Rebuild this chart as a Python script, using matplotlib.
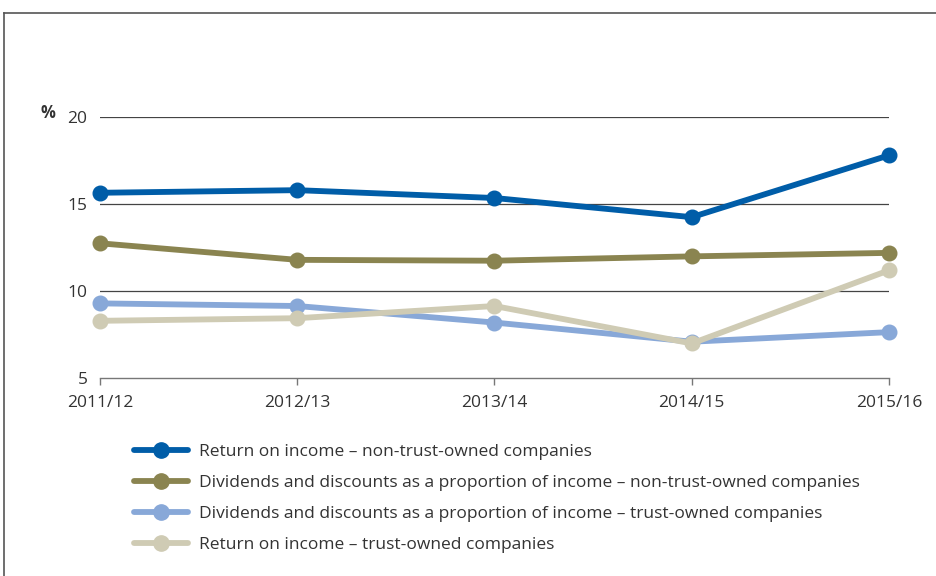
import matplotlib
matplotlib.use("Agg")
import matplotlib.pyplot as plt
from matplotlib.lines import Line2D

categories = ["2011/12", "2012/13", "2013/14", "2014/15", "2015/16"]
return_non_trust = [15.65, 15.8, 15.35, 14.25, 17.8]
div_non_trust = [12.75, 11.8, 11.75, 12.0, 12.2]
div_trust = [9.3, 9.15, 8.2, 7.1, 7.65]
return_trust = [8.3, 8.45, 9.15, 7.0, 11.2]

series_labels = [
    "Return on income \u2013 non-trust-owned companies",
    "Dividends and discounts as a proportion of income \u2013 non-trust-owned companies",
    "Dividends and discounts as a proportion of income \u2013 trust-owned companies",
    "Return on income \u2013 trust-owned companies",
]
colors = ["#005DA8", "#8A8450", "#88A8D8", "#CFCBB4"]
yticks = [5, 10, 15, 20]

plt.rcParams['font.family'] = ['Open Sans', 'DejaVu Sans']

fig = plt.figure(figsize=(9.37, 5.76), dpi=100)
ax = fig.add_axes([100/937, 1-378.3/576, (889-100)/937, (378.3-117)/576])

x = list(range(len(categories)))
series = [return_non_trust, div_non_trust, div_trust, return_trust]
order = [2, 1, 0, 3]
for i in order:
    ax.plot(x, series[i], color=colors[i], lw=4.2, marker='o', ms=10.5,
            solid_capstyle='round', clip_on=False, zorder=3 + i)

ax.set_xlim(0, 4)
ax.set_ylim(5, 20)
ax.set_yticks(yticks)
ax.set_yticklabels([str(v) for v in yticks], fontsize=12.5, color="#333333")
ax.set_xticks(x)
ax.set_xticklabels(categories, fontsize=12.5, color="#333333")
for s in ["top", "right", "left"]:
    ax.spines[s].set_visible(False)
ax.spines["bottom"].set_color("#777777")
ax.spines["bottom"].set_linewidth(1.0)
ax.tick_params(axis='y', length=0, pad=9)
ax.tick_params(axis='x', length=5, color="#777777", width=1.0, pad=7)
for v in [10, 15, 20]:
    ax.axhline(v, color="#444444", lw=0.9, zorder=1)

fig.text(48/937, 1-113/576, "%", fontsize=12, fontweight='bold',
         color="#333333", ha='center', va='center')

handles = [Line2D([0], [0], color=c, lw=4.2, marker='o', ms=11,
                  solid_capstyle='round') for c in colors]
fig.legend(handles, series_labels, loc='upper left',
           bbox_to_anchor=(127/937, 1-437/576), frameon=False,
           fontsize=12.5, handlelength=3.1, handletextpad=0.65,
           labelspacing=0.85, labelcolor="#333333", borderaxespad=0)

fig.add_artist(Line2D([4/937, 4/937], [0, 1-13/576], transform=fig.transFigure,
                      color="#555555", lw=1.2))
fig.add_artist(Line2D([4/937, 1], [1-13/576, 1-13/576], transform=fig.transFigure,
                      color="#555555", lw=1.2))

fig.savefig("out.png", dpi=100)
